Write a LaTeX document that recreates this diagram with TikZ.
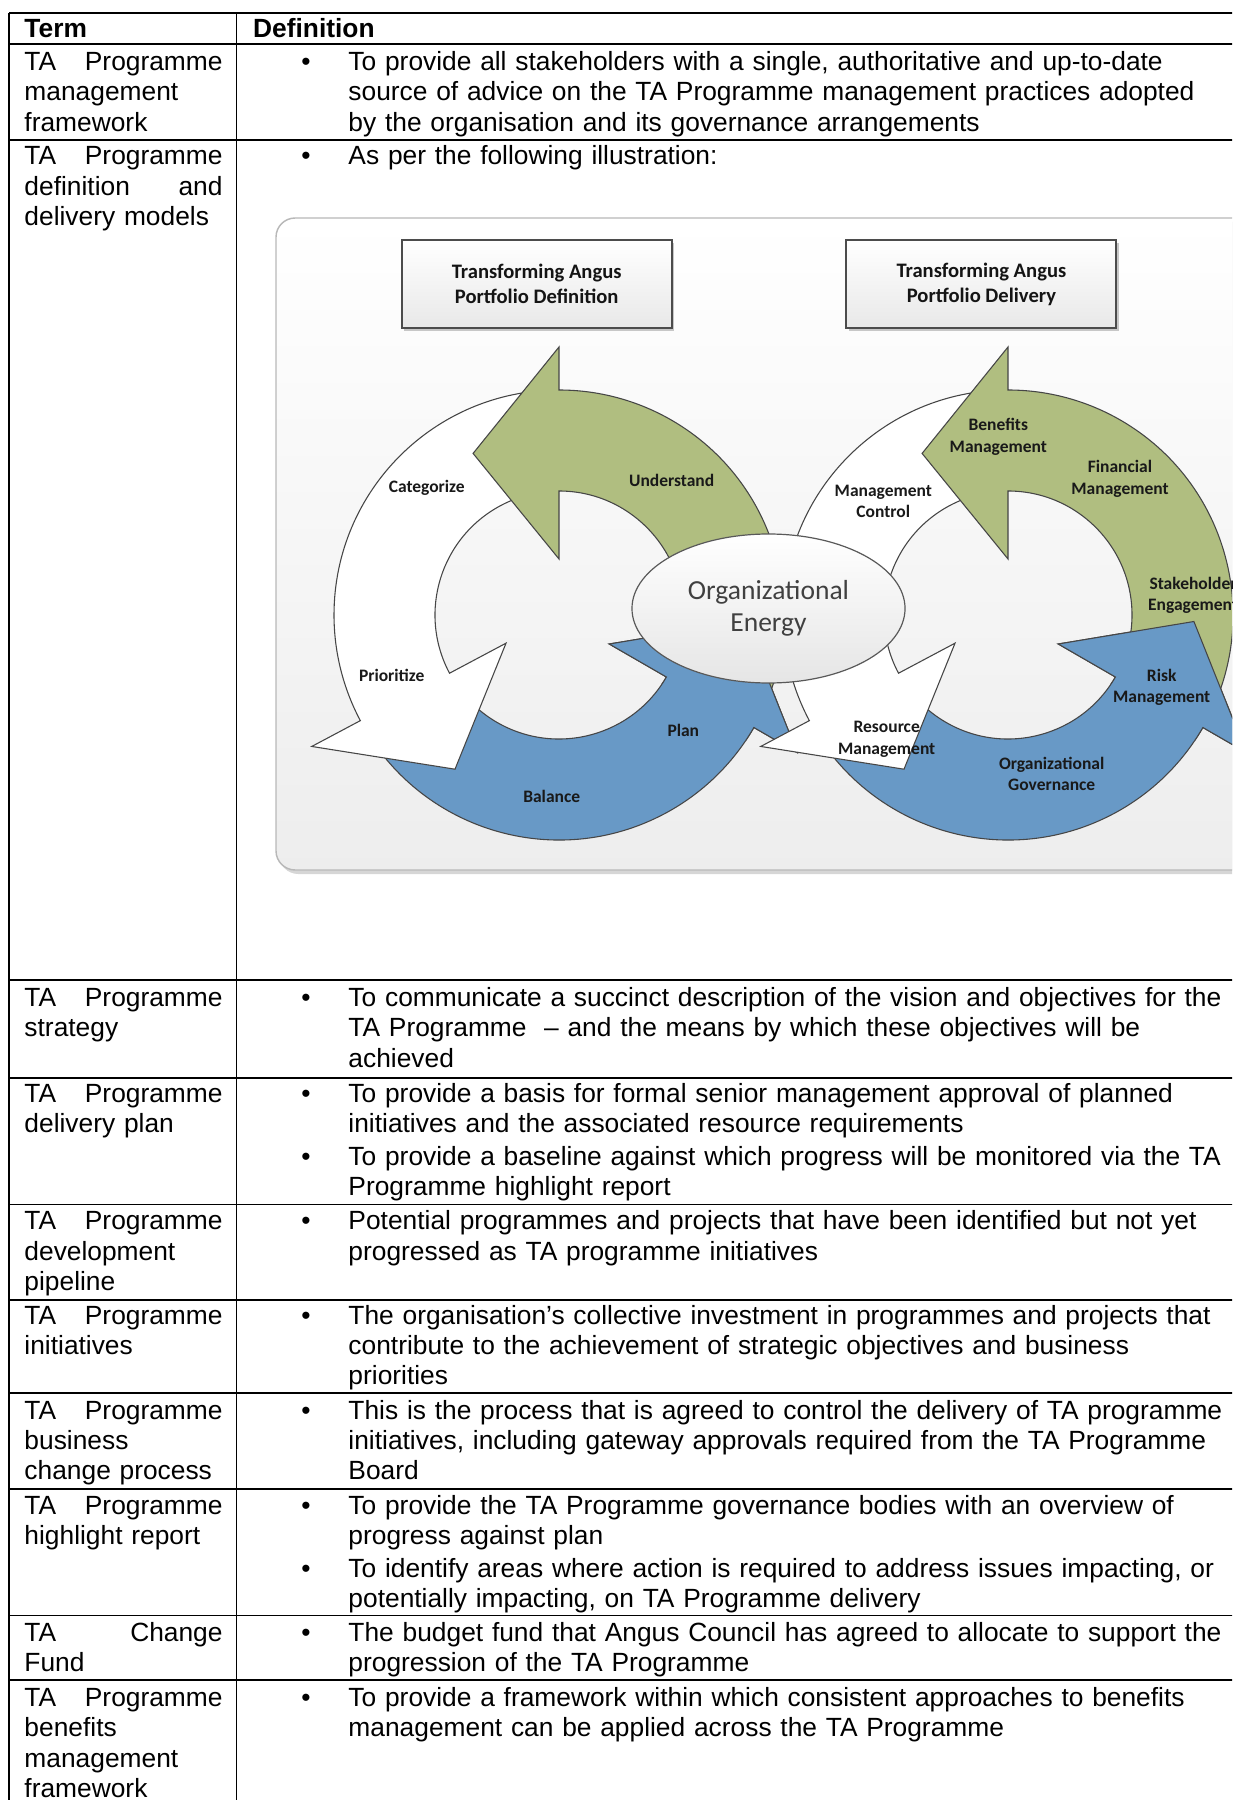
\documentclass[tikz,border=0pt]{standalone}
\usepackage{fontspec}
\setmainfont{Liberation Sans}
\newfontfamily\calibri{Carlito}
\usetikzlibrary{shapes.geometric}
\definecolor{arrowgreen}{RGB}{176,190,128}
\definecolor{arrowblue}{RGB}{104,153,198}
\definecolor{edgegray}{RGB}{70,70,70}

\begin{document}
\begin{tikzpicture}[x=0.4175pt,y=-0.4175pt]
\tikzstyle{every node}+=[inner sep=0pt]
\tikzstyle{termtext}=[anchor=base west,text width=82.7pt,align=left,font=\fontsize{11}{12.73}\selectfont]
\tikzstyle{deftext}=[anchor=base west,text width=380pt,align=left,font=\fontsize{11}{12.73}\selectfont]
\tikzstyle{bulletmark}=[anchor=base,font=\fontsize{11}{12.73}\selectfont]
\tikzstyle{headtext}=[anchor=base west,font=\fontsize{11}{12.73}\selectfont\bfseries]
\tikzstyle{rule}=[black,line width=0.65pt]
\tikzstyle{cyclepart}=[draw=edgegray,line width=0.45pt,line join=miter]
\tikzstyle{steplabel}=[align=center,text=black!90,font=\calibri\bfseries\fontsize{7.3}{9}\selectfont]
\tikzstyle{titlebox}=[draw=black!70,line width=0.8pt,top color=white,bottom color=black!9,minimum width=112.7pt,minimum height=36.9pt,align=center,text=black!92,font=\calibri\bfseries\fontsize{8.6}{10.4}\selectfont]
\useasboundingbox (0,0) rectangle (1232,1800);
\clip (0,0) rectangle (1232,1800);
% table rules
\draw [rule] (9,13) -- (1240,13);
\draw [rule] (9,44) -- (1240,44);
\draw [rule] (9,140) -- (1240,140);
\draw [rule] (9,980) -- (1240,980);
\draw [rule] (9,1078) -- (1240,1078);
\draw [rule] (9,1204.5) -- (1240,1204.5);
\draw [rule] (9,1300) -- (1240,1300);
\draw [rule] (9,1393) -- (1240,1393);
\draw [rule] (9,1489) -- (1240,1489);
\draw [rule] (9,1615.5) -- (1240,1615.5);
\draw [rule] (9,1680) -- (1240,1680);
\draw [rule] (9,13) -- (9,1810);
\draw [rule] (236.7,13) -- (236.7,1810);
% header
\node [headtext] (termhead) at (24,38) {Term};
\node [headtext] (defhead) at (252.7,38) {Definition};
% rows
\node [termtext] (term1) at (24,70.5) {TA\hfill Programme\\management\\framework};
\node [bulletmark] (dot1) at (306,70.5) {\textbullet};
\node [deftext] (def1) at (348,70.5) {To provide all stakeholders with a single, authoritative and up-to-date\\source of advice on the TA Programme management practices adopted\\by the organisation and its governance arrangements};
\node [termtext] (term2) at (24,165) {TA\hfill Programme\\definition\hfill and\\delivery models};
\node [bulletmark] (dot2) at (306,165) {\textbullet};
\node [deftext] (def2) at (348,165) {As per the following illustration:};
\node [termtext] (term3) at (24,1006.5) {TA\hfill Programme\\strategy};
\node [bulletmark] (dot3) at (306,1006.5) {\textbullet};
\node [deftext] (def3) at (348,1006.5) {To communicate a succinct description of the vision and objectives for the\\TA Programme \ – and the means by which these objectives will be\\achieved};
\node [termtext] (term4) at (24,1102) {TA\hfill Programme\\delivery plan};
\node [bulletmark] (dot4a) at (306,1102) {\textbullet};
\node [deftext] (def4a) at (348,1102) {To provide a basis for formal senior management approval of planned\\initiatives and the associated resource requirements};
\node [bulletmark] (dot4b) at (306,1165) {\textbullet};
\node [deftext] (def4b) at (348,1165) {To provide a baseline against which progress will be monitored via the TA\\Programme highlight report};
\node [termtext] (term5) at (24,1229.5) {TA\hfill Programme\\development\\pipeline};
\node [bulletmark] (dot5) at (306,1229.5) {\textbullet};
\node [deftext] (def5) at (348,1229.5) {Potential programmes and projects that have been identified but not yet\\progressed as TA programme initiatives};
\node [termtext] (term6) at (24,1324) {TA\hfill Programme\\initiatives};
\node [bulletmark] (dot6) at (306,1324) {\textbullet};
\node [deftext] (def6) at (348,1324) {The organisation’s collective investment in programmes and projects that\\contribute to the achievement of strategic objectives and business\\priorities};
\node [termtext] (term7) at (24,1419) {TA\hfill Programme\\business\\change process};
\node [bulletmark] (dot7) at (306,1419) {\textbullet};
\node [deftext] (def7) at (348,1419) {This is the process that is agreed to control the delivery of TA programme\\initiatives, including gateway approvals required from the TA Programme\\Board};
\node [termtext] (term8) at (24,1514) {TA\hfill Programme\\highlight report};
\node [bulletmark] (dot8a) at (306,1514) {\textbullet};
\node [deftext] (def8a) at (348,1514) {To provide the TA Programme governance bodies with an overview of\\progress against plan};
\node [bulletmark] (dot8b) at (306,1577) {\textbullet};
\node [deftext] (def8b) at (348,1577) {To identify areas where action is required to address issues impacting, or\\potentially impacting, on TA Programme delivery};
\node [termtext] (term9) at (24,1641) {TA\hfill Change\\Fund};
\node [bulletmark] (dot9) at (306,1641) {\textbullet};
\node [deftext] (def9) at (348,1641) {The budget fund that Angus Council has agreed to allocate to support the\\progression of the TA Programme};
\node [termtext] (term10) at (24,1706) {TA\hfill Programme\\benefits\\management\\framework};
\node [bulletmark] (dot10) at (306,1706) {\textbullet};
\node [deftext] (def10) at (348,1706) {To provide a framework within which consistent approaches to benefits\\management can be applied across the TA Programme};
% illustration panel
\fill [black!16,rounded corners=8pt] (279,222) rectangle (1300,874);
\draw [draw=black!28,line width=0.6pt,top color=white,bottom color=black!7,rounded corners=8pt] (276,218) rectangle (1298,870);
% title boxes
\fill [black!22] (404,243) rectangle (674.4,331.3);
\node [titlebox] (defbox) at (536.7,284.2) {Transforming Angus\\Portfolio Definition};
\fill [black!22] (849,243) rectangle (1119.1,331.3);
\node [titlebox] (delbox) at (981.4,284.2) {Transforming Angus\\Portfolio Delivery};
% definition cycle
\begin{scope}[shift={(559,615)},yscale=-1]
\draw [cyclepart,fill=arrowblue] (208:225) arc [start angle=208,end angle=330,radius=225] -- (330:275) -- (358:186) -- (330:58) -- (330:124) arc [start angle=330,end angle=208,radius=124] -- cycle;
\draw [cyclepart,fill=white] (90:225) arc [start angle=90,end angle=208,radius=225] -- (208:280) -- (236:186) -- (208:60) -- (208:124) arc [start angle=208,end angle=90,radius=124] -- cycle;
\draw [cyclepart,fill=arrowgreen] (-30:225) arc [start angle=-30,end angle=90,radius=225] -- (90:268) -- (118:183) -- (90:56) -- (90:124) arc [start angle=90,end angle=-30,radius=124] -- cycle;
\begin{scope}
\clip (0,0) -- (326:340) arc [start angle=326,end angle=380,radius=340] -- cycle;
\draw [cyclepart,fill=arrowblue] (208:225) arc [start angle=208,end angle=330,radius=225] -- (330:275) -- (358:186) -- (330:58) -- (330:124) arc [start angle=330,end angle=208,radius=124] -- cycle;
\end{scope}
\end{scope}
% delivery cycle
\begin{scope}[shift={(1008,615)},yscale=-1]
\draw [cyclepart,fill=arrowblue] (208:225) arc [start angle=208,end angle=330,radius=225] -- (330:275) -- (358:186) -- (330:58) -- (330:124) arc [start angle=330,end angle=208,radius=124] -- cycle;
\draw [cyclepart,fill=white] (90:225) arc [start angle=90,end angle=208,radius=225] -- (208:280) -- (236:186) -- (208:60) -- (208:124) arc [start angle=208,end angle=90,radius=124] -- cycle;
\draw [cyclepart,fill=arrowgreen] (-30:225) arc [start angle=-30,end angle=90,radius=225] -- (90:268) -- (118:183) -- (90:56) -- (90:124) arc [start angle=90,end angle=-30,radius=124] -- cycle;
\begin{scope}
\clip (0,0) -- (326:340) arc [start angle=326,end angle=380,radius=340] -- cycle;
\draw [cyclepart,fill=arrowblue] (208:225) arc [start angle=208,end angle=330,radius=225] -- (330:275) -- (358:186) -- (330:58) -- (330:124) arc [start angle=330,end angle=208,radius=124] -- cycle;
\end{scope}
\end{scope}
% centre
\node [ellipse,draw=black!65,line width=0.5pt,top color=white,bottom color=black!10,minimum width=114pt,minimum height=62.2pt,align=center,text=black!75,font=\calibri\fontsize{11.5}{13.2}\selectfont] (energy) at (768.5,608.5) {Organizational\\Energy};
% step labels
\node [steplabel] (categorize) at (426.7,488.3) {Categorize};
\node [steplabel] (understand) at (671.7,480) {Understand};
\node [steplabel] (prioritize) at (391.7,675) {Prioritize};
\node [steplabel] (plan) at (683.3,730) {Plan};
\node [steplabel] (balance) at (551.7,796.7) {Balance};
\node [steplabel] (benefits) at (998.3,437) {Benefits\\Management};
\node [steplabel] (financial) at (1120,479) {Financial\\Management};
\node [steplabel] (control) at (883.3,501.5) {Management\\Control};
\node [steplabel] (stakeholder) at (1193,595.5) {Stakeholder\\Engagement};
\node [steplabel] (risk) at (1161.7,687.5) {Risk\\Management};
\node [steplabel] (resource) at (886.7,739.5) {Resource\\Management};
\node [steplabel] (governance) at (1051.7,774) {Organizational\\Governance};
\end{tikzpicture}
\end{document}
